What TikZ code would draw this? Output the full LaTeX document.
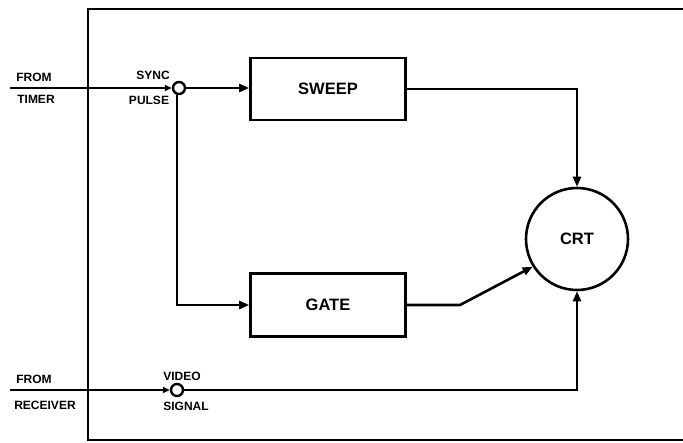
\documentclass[tikz,border=0pt]{standalone}
\usepackage{fontspec}
\setmainfont{Liberation Sans}
\usetikzlibrary{arrows.meta}
\begin{document}
\begin{tikzpicture}[x=1pt,y=-1pt, line width=2.6pt,
  blk/.style={draw, minimum width=155pt, minimum height=62pt, inner sep=0pt, font=\bfseries\fontsize{16.5}{17}\selectfont},
  sm/.style={font=\bfseries\fontsize{12}{12}\selectfont, inner sep=0pt},
  arr/.style={-{Triangle[length=10pt,width=8pt]}},
  sarr/.style={-{Triangle[length=7pt,width=6pt]}},
  jn/.style={circle, draw, fill=white, minimum size=12pt, inner sep=0pt, line width=2.4pt}]
\useasboundingbox (0,0) rectangle (683,442);
% frame
\draw (683,9) -- (88,9) -- (88,440) -- (683,440);
% blocks
\node[blk] (sweep) at (328,89) {SWEEP};
\node[blk, minimum height=63pt] (gate) at (328,305) {GATE};
\node[circle, draw, minimum size=102pt, inner sep=0pt, font=\bfseries\fontsize{16.5}{17}\selectfont] (crt) at (577,239) {CRT};
% junctions
\coordinate (tin) at (10,88);
\coordinate (vin) at (10,390);
\coordinate (gbend) at (460,305);
\coordinate (sdown) at (177,94);
\node[jn] (sync) at (179,88) {};
\node[jn] (vid) at (177,390) {};
% connectors
\draw[sarr] (tin) -- (sync.west);
\draw[arr] (sync.east) -- (sweep.west |- sync);
\draw[arr] (sdown) |- (gate.west);
\draw[arr] (sweep.east) -| (crt.north);
\draw[arr] (gate.east) -- (gbend) -- (crt.212);
\draw[sarr] (vin) -- (vid.west);
\draw[arr] (vid.east) -| (crt.south);
% labels
\node[sm] (from1) at (34,77) {FROM};
\node[sm] (timer) at (36,99) {TIMER};
\node[sm] (synct) at (153,75) {SYNC};
\node[sm] (pulse) at (149,100) {PULSE};
\node[sm] (from2) at (34,379) {FROM};
\node[sm] (recv) at (45,405) {RECEIVER};
\node[sm] (videot) at (182,376) {VIDEO};
\node[sm] (signal) at (186,406) {SIGNAL};
\end{tikzpicture}
\end{document}
